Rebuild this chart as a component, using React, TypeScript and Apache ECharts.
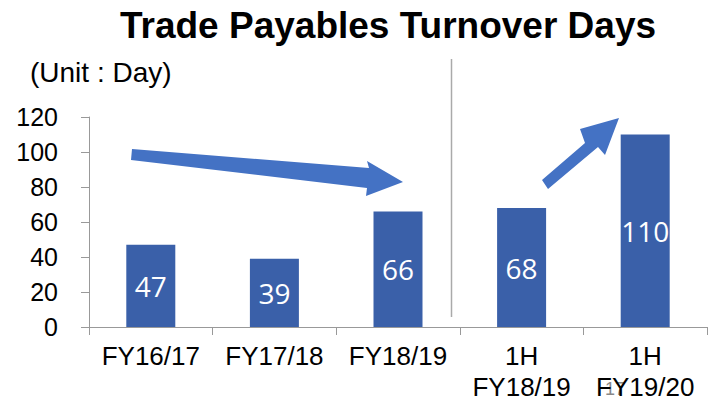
import React, { useEffect, useRef } from "react";
import * as echarts from "echarts";

const categories = ["FY16/17", "FY17/18", "FY18/19", "1H\nFY18/19", "1H\nFY19/20"];
const values = [47, 39, 66, 68, 110];
const yTicks = [0, 20, 40, 60, 80, 100, 120];

export default function App() {
  const ref = useRef<HTMLDivElement>(null);
  useEffect(() => {
    const chart = echarts.init(ref.current!, null, { renderer: "svg" });
    const font = "'Liberation Sans', Arial, sans-serif";
    chart.setOption({
      animation: false,
      title: {
        text: "Trade Payables Turnover Days",
        left: 383,
        textAlign: "center",
        top: 2,
        textStyle: { fontFamily: font, fontWeight: "bold", fontSize: 37, color: "#000" },
      },
      grid: { left: 89, right: 3, top: 117, bottom: 74 },
      xAxis: {
        type: "category",
        data: categories,
        axisLine: { lineStyle: { color: "#999", width: 1 } },
        axisTick: { show: true, length: 8, lineStyle: { color: "#999" } },
        axisLabel: { interval: 0, fontFamily: font, fontSize: 26, color: "#000", margin: 13, lineHeight: 31 },
      },
      yAxis: {
        type: "value",
        min: yTicks[0],
        max: yTicks[yTicks.length - 1],
        interval: 20,
        splitLine: { show: false },
        axisLine: { show: true, lineStyle: { color: "#999", width: 1 } },
        axisTick: { show: true, length: 8, lineStyle: { color: "#999" } },
        axisLabel: { fontFamily: font, fontSize: 25, color: "#000", margin: 31 },
      },
      series: [
        {
          type: "bar",
          data: values,
          barWidth: 49,
          itemStyle: { color: "#3A60A9" },
          label: {
            show: true,
            position: "inside",
            color: "#fff",
            fontFamily: "'Open Sans', sans-serif",
            fontSize: 28,
          },
        },
      ],
      graphic: [
        {
          type: "text",
          left: 30,
          top: 58,
          style: { text: "(Unit : Day)", fontFamily: font, fontSize: 28, fill: "#000" },
        },
        {
          type: "line",
          shape: { x1: 451.5, y1: 59, x2: 451.5, y2: 317 },
          style: { stroke: "#aaa", lineWidth: 1.5 },
        },
        {
          type: "polygon",
          shape: {
            points: [
              [132, 149], [369, 168], [367, 161], [403, 182], [366, 196], [367, 188], [131, 160],
            ],
          },
          style: { fill: "#4472C4" },
        },
        {
          type: "polygon",
          shape: {
            points: [
              [542, 180], [585, 143], [580, 129], [619, 118], [605, 155], [598, 147], [548, 189],
            ],
          },
          style: { fill: "#4472C4" },
        },
        {
          type: "text",
          left: 605,
          top: 380,
          style: { text: "17", fontFamily: font, fontSize: 18, fill: "#888" },
        },
      ],
    });
    return () => chart.dispose();
  }, []);
  return <div ref={ref} style={{ width: 710, height: 402, position: "absolute", left: 0, top: 0 }} />;
}
